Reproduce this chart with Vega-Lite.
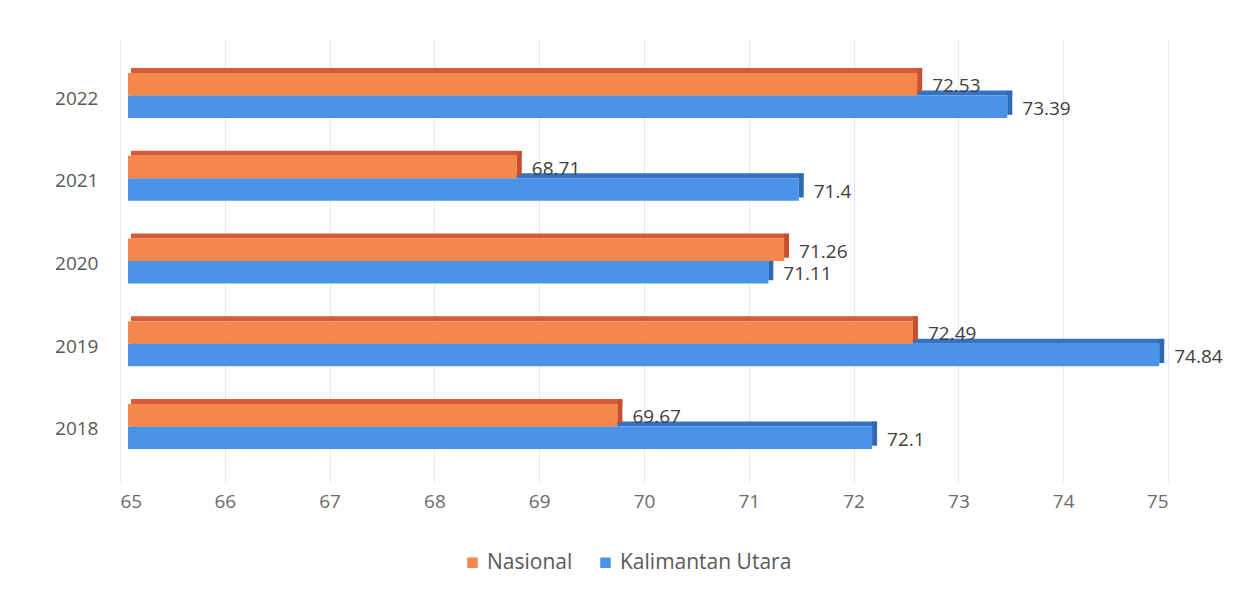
{
  "$schema": "https://vega.github.io/schema/vega-lite/v6.json",
  "width": 1048,
  "height": 442,
  "autosize": {"type": "none"},
  "padding": {"left": 120, "top": 40, "right": 86, "bottom": 114},
  "background": "white",
  "config": {
    "font": "Open Sans",
    "view": {"stroke": null}
  },
  "data": {
    "values": [
      {"year": "2022", "s": "Nasional", "v": 72.53},
      {"year": "2022", "s": "Kalimantan Utara", "v": 73.39},
      {"year": "2021", "s": "Nasional", "v": 68.71},
      {"year": "2021", "s": "Kalimantan Utara", "v": 71.4},
      {"year": "2020", "s": "Nasional", "v": 71.26},
      {"year": "2020", "s": "Kalimantan Utara", "v": 71.11},
      {"year": "2019", "s": "Nasional", "v": 72.49},
      {"year": "2019", "s": "Kalimantan Utara", "v": 74.84},
      {"year": "2018", "s": "Nasional", "v": 69.67},
      {"year": "2018", "s": "Kalimantan Utara", "v": 72.1}
    ]
  },
  "encoding": {
    "y": {
      "field": "year", "type": "nominal",
      "sort": ["2022", "2021", "2020", "2019", "2018"],
      "scale": {"paddingInner": 0.456, "paddingOuter": 0.4},
      "axis": {"title": null, "ticks": false, "domain": false, "labelPadding": 22, "labelOffset": 3, "labelFontSize": 19, "labelColor": "#595959", "labelFont": "Open Sans"}
    },
    "x": {
      "field": "v", "type": "quantitative",
      "scale": {"domain": [65, 75], "zero": false, "nice": false},
      "axis": {"title": null, "values": [65,66,67,68,69,70,71,72,73,74,75], "labelOverlap": false, "ticks": false, "domain": false, "grid": true, "gridColor": "#e9e9e9", "labelPadding": 10, "labelFontSize": 19, "labelColor": "#6b6b6b", "labelFont": "Open Sans"}
    }
  },
  "layer": [
    {
      "transform": [{"filter": "datum.s == 'Kalimantan Utara'"}],
      "mark": {"type": "bar", "height": 5, "yOffset": -2.5, "xOffset": 13, "x2Offset": 11, "color": "#3372c4", "cornerRadius": 1},
      "encoding": {"x2": {"datum": 65}}
    },
    {
      "transform": [{"filter": "datum.s == 'Kalimantan Utara'"}],
      "mark": {"type": "bar", "xOffset": 8, "x2Offset": 8},
      "encoding": {
        "x2": {"datum": 65},
        "yOffset": {"field": "s", "type": "nominal", "scale": {"domain": ["Nasional", "Kalimantan Utara"]}},
        "color": {"field": "s", "type": "nominal",
          "scale": {"domain": ["Nasional", "Kalimantan Utara"], "range": ["#f4884c", "#4a93e6"]},
          "legend": {"title": null, "orient": "none", "direction": "horizontal", "legendX": 342, "legendY": 512, "symbolType": "square", "symbolSize": 110, "symbolStrokeWidth": 0, "labelFontSize": 21, "labelLimit": 400, "labelColor": "#595959", "labelFont": "Open Sans", "columnPadding": 22, "labelOffset": 4}}
      }
    },
    {
      "transform": [{"filter": "datum.s == 'Kalimantan Utara'"}],
      "mark": {"type": "bar", "height": 24, "yOffset": 7.25, "xOffset": 8, "x2Offset": 13, "color": "#2e69b8"},
      "encoding": {"x2": {"field": "v"}}
    },
    {
      "transform": [{"filter": "datum.s == 'Nasional'"}],
      "mark": {"type": "bar", "height": 5, "yOffset": -25, "xOffset": 13, "x2Offset": 11, "color": "#d85a36", "cornerRadius": 1},
      "encoding": {"x2": {"datum": 65}}
    },
    {
      "transform": [{"filter": "datum.s == 'Nasional'"}],
      "mark": {"type": "bar", "xOffset": 8, "x2Offset": 8},
      "encoding": {
        "x2": {"datum": 65},
        "yOffset": {"field": "s", "type": "nominal", "scale": {"domain": ["Nasional", "Kalimantan Utara"]}},
        "color": {"field": "s", "type": "nominal",
          "scale": {"domain": ["Nasional", "Kalimantan Utara"], "range": ["#f4884c", "#4a93e6"]},
          "legend": {"title": null, "orient": "none", "direction": "horizontal", "legendX": 342, "legendY": 512, "symbolType": "square", "symbolSize": 110, "symbolStrokeWidth": 0, "labelFontSize": 21, "labelLimit": 400, "labelColor": "#595959", "labelFont": "Open Sans", "columnPadding": 22, "labelOffset": 4}}
      }
    },
    {
      "transform": [{"filter": "datum.s == 'Nasional'"}],
      "mark": {"type": "bar", "height": 24, "yOffset": -15.25, "xOffset": 8, "x2Offset": 13, "color": "#c9502f"},
      "encoding": {"x2": {"field": "v"}}
    },
    {
      "mark": {"type": "text", "align": "left", "baseline": "middle", "dx": 23, "dy": 2, "fontSize": 19, "color": "#404040", "font": "Open Sans"},
      "encoding": {
        "yOffset": {"field": "s", "type": "nominal", "scale": {"domain": ["Nasional", "Kalimantan Utara"]}},
        "text": {"field": "v", "type": "quantitative"}
      }
    }
  ]
}
